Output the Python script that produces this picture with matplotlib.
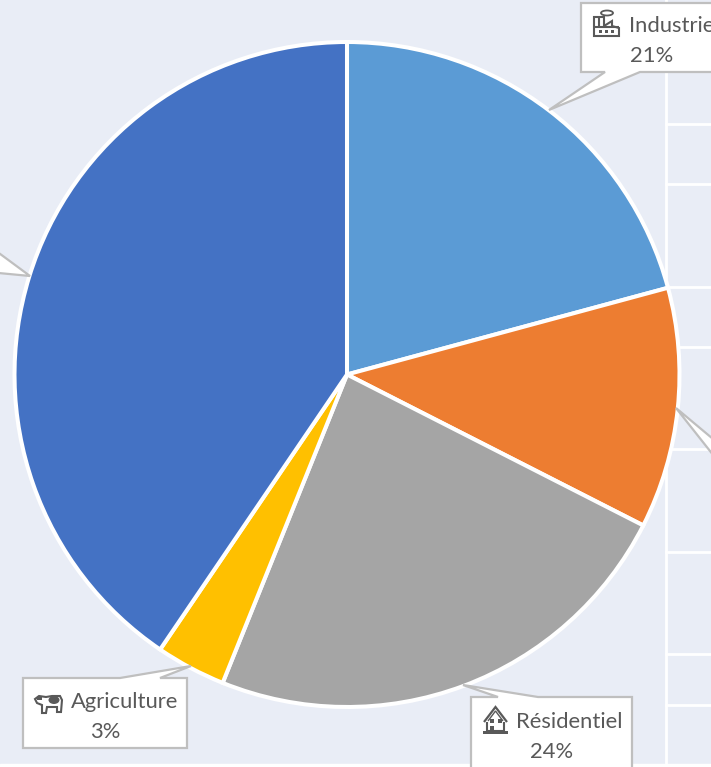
import numpy as np
import matplotlib
matplotlib.use('Agg')
import matplotlib.pyplot as plt
from matplotlib.patches import Polygon, Rectangle, Ellipse

W, H = 711, 767

# pie data, clockwise from the top
secteurs = ['Industrie', 'Transport', 'Résidentiel', 'Agriculture', 'Tertiaire']
valeurs = [20.8, 11.7, 23.6, 3.4, 40.5]
couleurs = ['#5B9BD5', '#ED7D31', '#A5A5A5', '#FFC000', '#4472C4']

# background grid of the sheet behind the picture
grille_y = [124, 184, 287, 347, 449, 552, 654, 705]
grille_x = [666]

fig = plt.figure(figsize=(W / 100, H / 100), dpi=100, facecolor='#E9EDF6')
ax = fig.add_axes([0, 0, 1, 1])
ax.set_axis_off()


def yy(y):
    # picture rows run downwards, the axes upwards
    return H - y


for y in grille_y:
    ax.plot([666, W], [yy(y), yy(y)], color='white', lw=2.0, zorder=1)
for x in grille_x:
    ax.plot([x, x], [0, H], color='white', lw=2.0, zorder=1)
ax.add_patch(Rectangle((0, 0), W, 3, color='white', zorder=1))

ax.pie(valeurs, colors=couleurs, startangle=90, counterclock=False,
       center=(347, yy(374.5)), radius=332.5,
       wedgeprops={'edgecolor': 'white', 'linewidth': 2.9, 'zorder': 2})
ax.set_xlim(0, W)
ax.set_ylim(0, H)
ax.set_aspect('auto')


def bulle(points):
    pts = [(x, yy(y)) for x, y in points]
    ax.add_patch(Polygon(pts, closed=True, facecolor='white', edgecolor='#BFBFBF',
                         lw=1.6, zorder=3, clip_on=True))


# callouts: box outline with its pointer
bulle([(581, 3), (720, 3), (720, 72), (640, 72), (549, 110), (605, 72), (581, 72)])
bulle([(23, 678), (120, 678), (191, 666), (160, 678), (187, 678), (187, 748), (23, 748)])
bulle([(471, 697), (498, 697), (463, 685), (538, 697), (632, 697), (632, 780), (471, 780)])
bulle([(676, 408), (725, 449), (725, 470)])
bulle([(30, 276), (-12, 245), (-12, 272)])


def etiquette(xi, x2, y1, y2, nom, pct):
    st = dict(family='Lato', fontsize=15.8, color='#595959', zorder=5, va='center')
    ax.text(xi, yy(y1), nom, ha='left', **st)
    ax.text(x2, yy(y2), pct, ha='center', **st)


etiquette(629, 652, 25.5, 56, 'Industrie', '21%')
etiquette(71, 105, 702, 732.5, 'Agriculture', '3%')
etiquette(516, 552, 722, 751.5, 'Résidentiel', '24%')

gris = '#595959'


def trait(points, lw=1.5, ferme=False, fc='none'):
    pts = [(x, yy(y)) for x, y in points]
    ax.add_patch(Polygon(pts, closed=ferme, facecolor=fc, edgecolor=gris, lw=lw, zorder=5,
                         joinstyle='miter'))


def plein(x, y, w, h):
    ax.add_patch(Rectangle((x, yy(y + h)), w, h, color=gris, lw=0, zorder=6))


# factory icon
trait([(594, 36), (594, 17), (604, 17), (604, 26), (612, 21), (612, 26), (619, 28), (619, 36)],
      ferme=True)
trait([(594, 27), (619, 27)])
trait([(599, 17), (599, 27)])
ax.add_patch(Ellipse((607, yy(13)), 12, 5, fc='none', ec=gris, lw=1.3, zorder=5))
for x in [599, 605, 611]:
    plein(x, 30, 3, 3)

# cow icon
trait([(39, 696), (46, 697), (52, 696), (60, 696), (62, 700), (61, 712), (57, 712), (57, 707),
       (47, 707), (46, 713), (42, 713), (42, 705), (37, 703), (35, 699)], ferme=True, fc='white')
ax.add_patch(Ellipse((54, yy(700)), 11, 8, color=gris, lw=0, zorder=6))
plein(37, 696, 5, 4)

# house icon
trait([(484, 722), (495.5, 707), (507, 722)], lw=1.6)
trait([(488, 721), (495.5, 711), (503, 721)], lw=1.0)
trait([(487, 722), (487, 731), (504, 731), (504, 722)])
plein(483, 730.5, 25, 3)
plein(490, 719, 4, 4)
plein(498, 719, 4, 4)
plein(490, 726, 4, 5)

fig.savefig('out.png', dpi=100, facecolor=fig.get_facecolor())
